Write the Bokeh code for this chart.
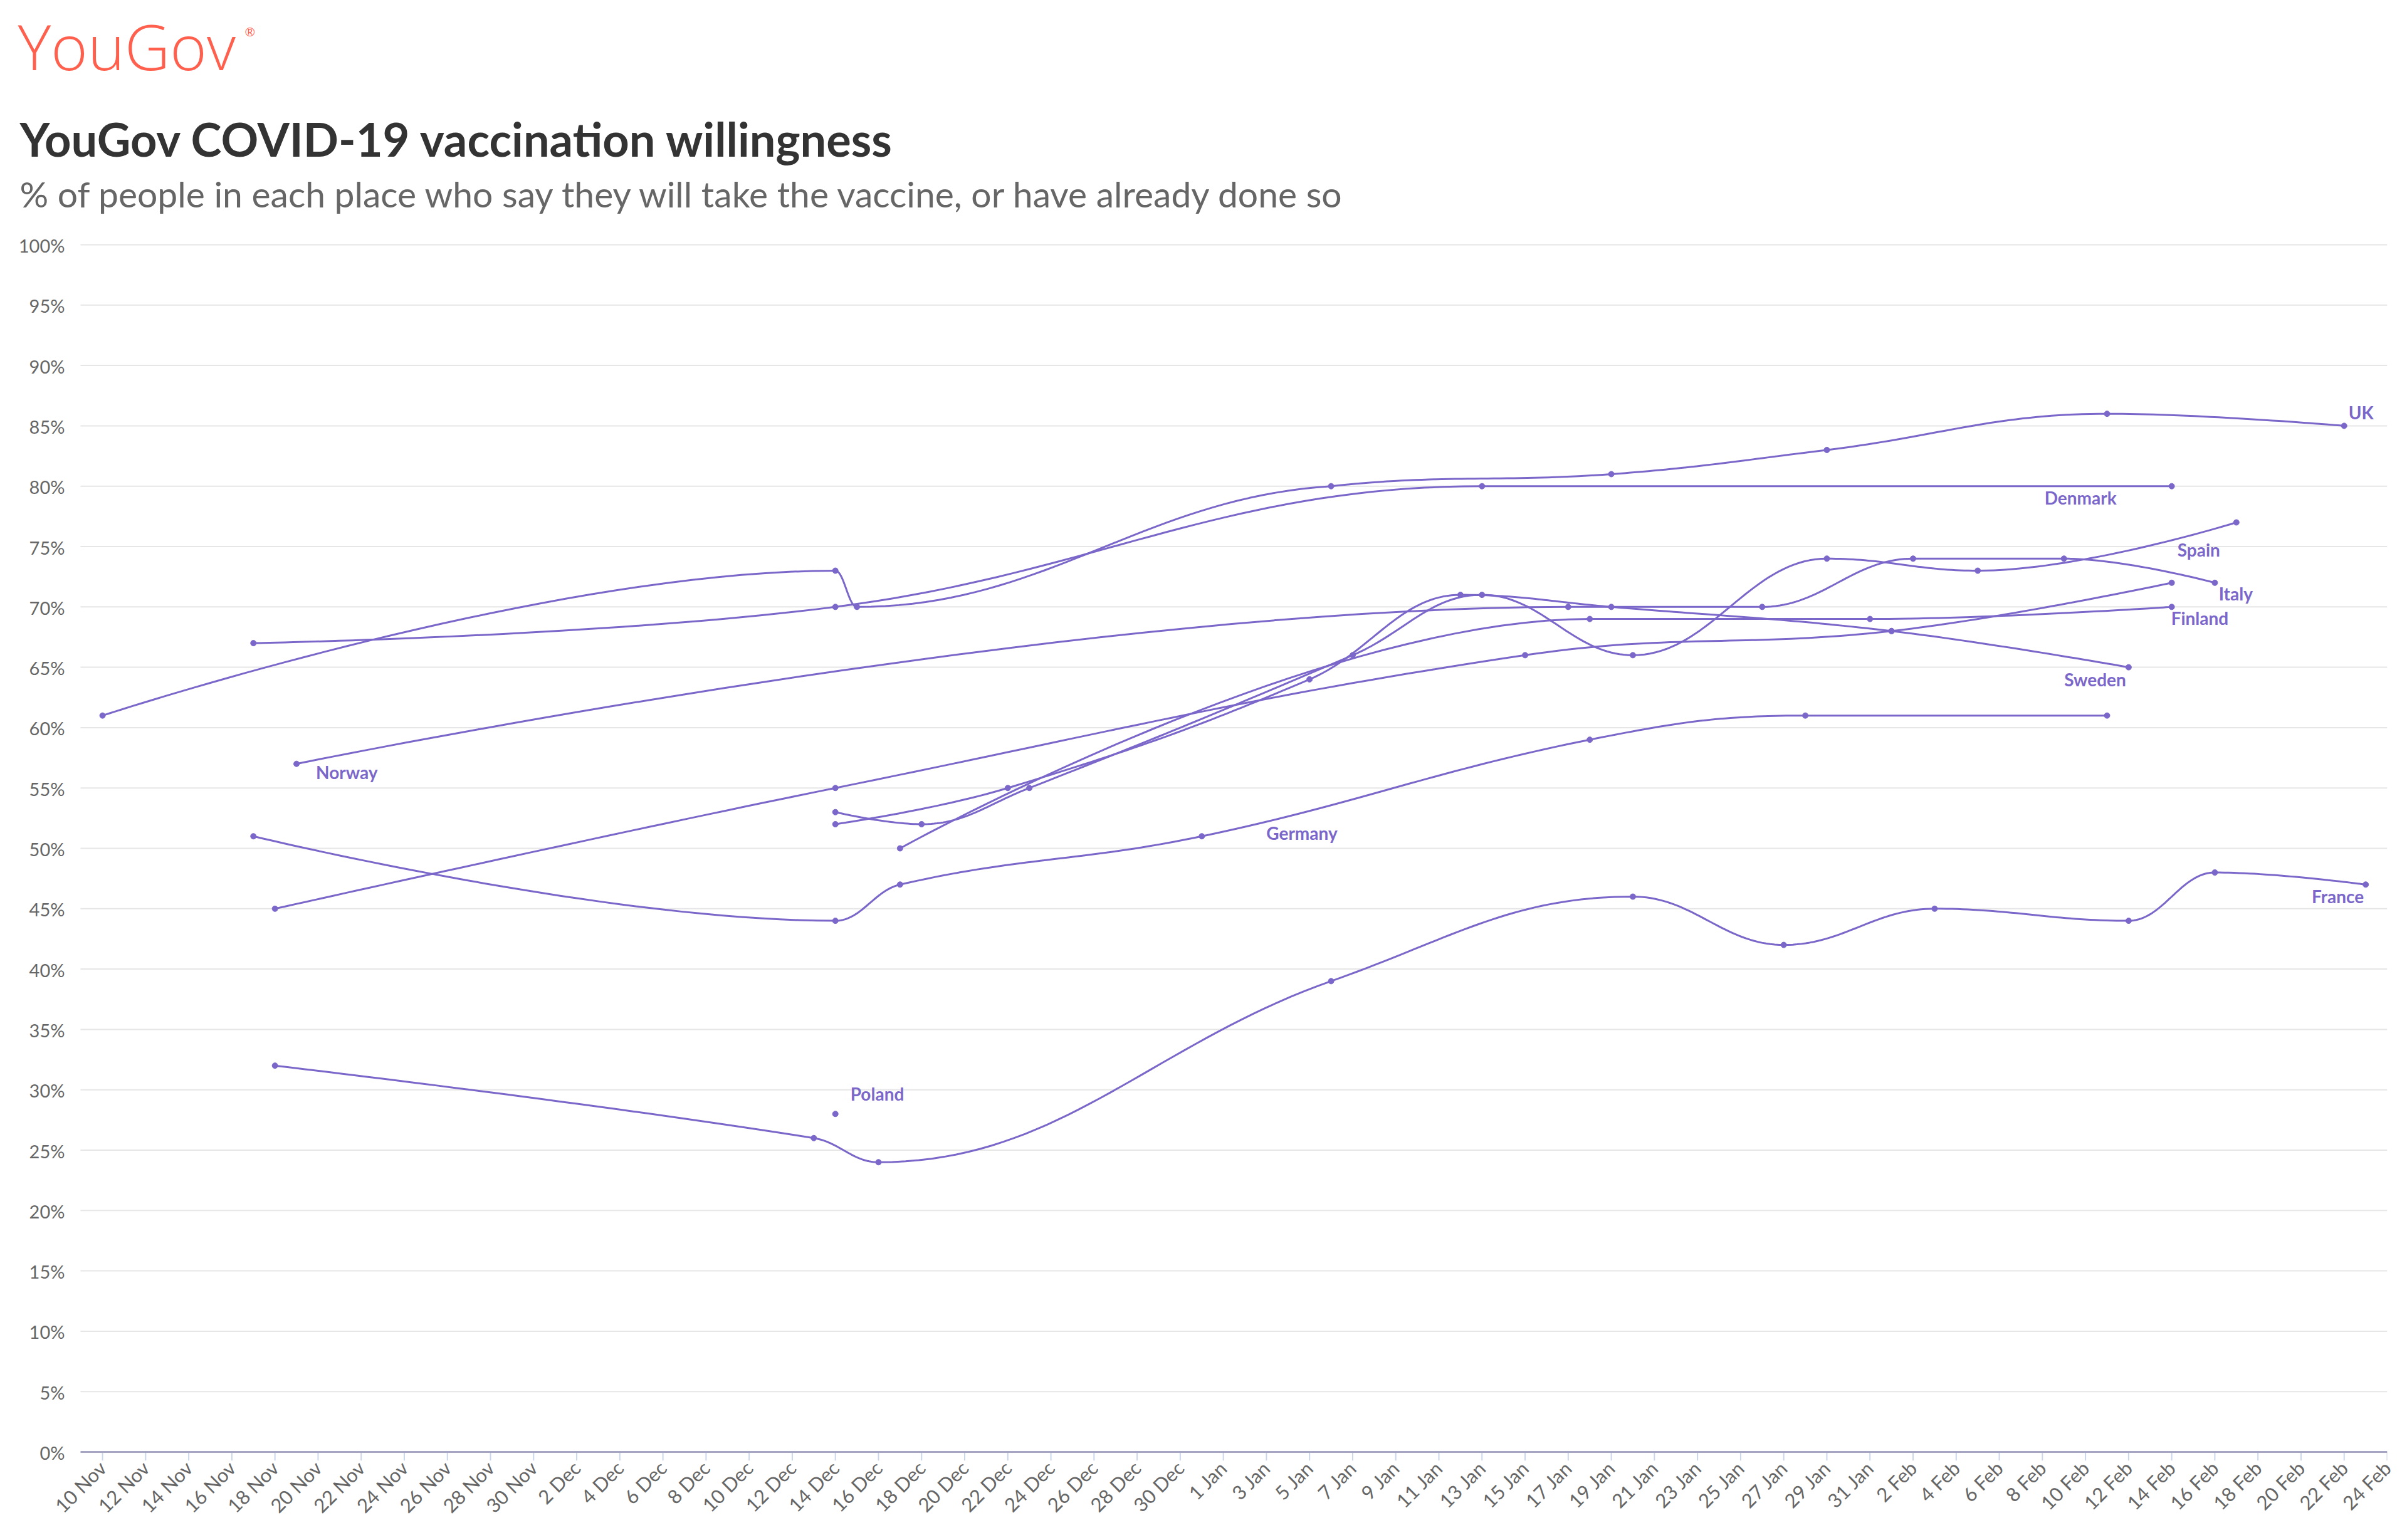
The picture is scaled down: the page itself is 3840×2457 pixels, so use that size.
import numpy as np
import pandas as pd
from math import pi
from bokeh.plotting import figure
from bokeh.models import Range1d, FixedTicker, ColumnDataSource, Label
from bokeh.embed import file_html
from bokeh.resources import INLINE
from bokeh.core.properties import value

# ---------------- data ----------------
START = "2020-11-10"

UK_DATES = ["2020-11-10", "2020-12-14", "2020-12-15", "2021-01-06", "2021-01-19", "2021-01-29", "2021-02-11", "2021-02-22"]
UK_VALUES = [61, 73, 70, 80, 81, 83, 86, 85]

DENMARK_DATES = ["2020-11-17", "2020-12-14", "2021-01-13", "2021-02-14"]
DENMARK_VALUES = [67, 70, 80, 80]

SPAIN_DATES = ["2020-12-14", "2020-12-18", "2020-12-23", "2021-01-07", "2021-01-13", "2021-01-20", "2021-01-29", "2021-02-05", "2021-02-17"]
SPAIN_VALUES = [53, 52, 55, 66, 71, 66, 74, 73, 77]

ITALY_DATES = ["2020-11-18", "2020-12-14", "2021-01-15", "2021-02-01", "2021-02-14"]
ITALY_VALUES = [45, 55, 66, 68, 72]

FINLAND_DATES = ["2020-12-17", "2021-01-18", "2021-01-31", "2021-02-14"]
FINLAND_VALUES = [50, 69, 69, 70]

SWEDEN_DATES = ["2020-12-14", "2020-12-22", "2021-01-05", "2021-01-12", "2021-01-19", "2021-02-01", "2021-02-12"]
SWEDEN_VALUES = [52, 55, 64, 71, 70, 68, 65]

NORWAY_DATES = ["2020-11-19", "2021-01-17", "2021-01-26", "2021-02-02", "2021-02-09", "2021-02-16"]
NORWAY_VALUES = [57, 70, 70, 74, 74, 72]

GERMANY_DATES = ["2020-11-17", "2020-12-14", "2020-12-17", "2020-12-31", "2021-01-18", "2021-01-28", "2021-02-11"]
GERMANY_VALUES = [51, 44, 47, 51, 59, 61, 61]

FRANCE_DATES = ["2020-11-18", "2020-12-13", "2020-12-16", "2021-01-06", "2021-01-20", "2021-01-27", "2021-02-03", "2021-02-12", "2021-02-16", "2021-02-23"]
FRANCE_VALUES = [32, 26, 24, 39, 46, 42, 45, 44, 48, 47]

POLAND_DATES = ["2020-12-14"]
POLAND_VALUES = [28]

COUNTRIES = ["UK", "Denmark", "Spain", "Italy", "Finland", "Sweden", "Norway", "Germany", "France", "Poland"]
SERIES = {
    "UK": (UK_DATES, UK_VALUES),
    "Denmark": (DENMARK_DATES, DENMARK_VALUES),
    "Spain": (SPAIN_DATES, SPAIN_VALUES),
    "Italy": (ITALY_DATES, ITALY_VALUES),
    "Finland": (FINLAND_DATES, FINLAND_VALUES),
    "Sweden": (SWEDEN_DATES, SWEDEN_VALUES),
    "Norway": (NORWAY_DATES, NORWAY_VALUES),
    "Germany": (GERMANY_DATES, GERMANY_VALUES),
    "France": (FRANCE_DATES, FRANCE_VALUES),
    "Poland": (POLAND_DATES, POLAND_VALUES),
}

X_TICK_LABELS = [
    "10 Nov", "12 Nov", "14 Nov", "16 Nov", "18 Nov", "20 Nov", "22 Nov", "24 Nov", "26 Nov", "28 Nov", "30 Nov",
    "2 Dec", "4 Dec", "6 Dec", "8 Dec", "10 Dec", "12 Dec", "14 Dec", "16 Dec", "18 Dec", "20 Dec", "22 Dec",
    "24 Dec", "26 Dec", "28 Dec", "30 Dec",
    "1 Jan", "3 Jan", "5 Jan", "7 Jan", "9 Jan", "11 Jan", "13 Jan", "15 Jan", "17 Jan", "19 Jan", "21 Jan",
    "23 Jan", "25 Jan", "27 Jan", "29 Jan", "31 Jan",
    "2 Feb", "4 Feb", "6 Feb", "8 Feb", "10 Feb", "12 Feb", "14 Feb", "16 Feb", "18 Feb", "20 Feb", "22 Feb", "24 Feb",
]
Y_TICKS = list(range(0, 101, 5))
Y_TICK_LABELS = [f"{t}%" for t in Y_TICKS]

TITLE = "YouGov COVID-19 vaccination willingness"
SUBTITLE = "% of people in each place who say they will take the vaccine, or have already done so"
LOGO = "YouGov"

# ---------------- styling / layout ----------------
PURPLE = "#7b67c9"
FONT = "Lato"
LOGO_FONT = "Open Sans"
BASELINE_FIX = 0.43     # em shift so text sits on the intended baseline
LABEL_SIZE = 28
YLAB_SIZE = 29
TICK_LEN = 14

# label placement: (anchor point index, dx px, dy px to baseline, align)
LABEL_PLACEMENT = {
    "UK": (-1, 7, -9, "left"),
    "Denmark": (-1, -88, 30, "right"),
    "Spain": (-1, -26, 56, "right"),
    "Italy": (-1, 75, 29, "left"),
    "Finland": (-1, -1, 30, "left"),
    "Sweden": (-1, -4, 31, "right"),
    "Norway": (0, 31, 25, "left"),
    "Germany": (3, 103, 7, "left"),
    "France": (-1, -3, 31, "right"),
    "Poland": (0, 24, -20, "left"),
}

W, H = 3840, 2450
PLOT_LEFT, PLOT_RIGHT = 128, 3808
PLOT_TOP, PLOT_BOTTOM = 390, 2316          # page y of the 100% and 0% lines
FRAME_BOTTOM = PLOT_BOTTOM + TICK_LEN
X0, X1 = -1.02, 106.0                       # visible date span (days from START)
PX_PER_DAY = (PLOT_RIGHT - PLOT_LEFT) / (X1 - X0)
PX_PER_PCT = (PLOT_BOTTOM - PLOT_TOP) / 100.0
XL = X0 - PLOT_LEFT / PX_PER_DAY            # frame reaches the canvas' left edge
Y_MAX = PLOT_BOTTOM / PX_PER_PCT            # frame reaches the canvas' top edge
Y_MIN = -TICK_LEN / PX_PER_PCT              # room for the tick marks below 0%


def page_to_data(px, py):
    return XL + px / PX_PER_DAY, (PLOT_BOTTOM - py) / PX_PER_PCT


def to_days(dates):
    return list((pd.to_datetime(dates) - pd.Timestamp(START)).days.astype(float))


def hc_spline(xs, ys, smoothing=1.5, n=40):
    """Highcharts-style spline through the given points."""
    m = len(xs)
    if m < 2:
        return list(xs), list(ys)
    denom = smoothing + 1
    lc = [None] * m
    rc = [None] * m
    for i in range(1, m - 1):
        x, y = xs[i], ys[i]
        lx, ly = xs[i - 1], ys[i - 1]
        nx, ny = xs[i + 1], ys[i + 1]
        lcx = (smoothing * x + lx) / denom
        lcy = (smoothing * y + ly) / denom
        rcx = (smoothing * x + nx) / denom
        rcy = (smoothing * y + ny) / denom
        if rcx != lcx:
            corr = (rcy - lcy) * (rcx - x) / (rcx - lcx) + y - rcy
            lcy += corr
            rcy += corr
        if lcy > ly and lcy > y:
            lcy = max(ly, y)
            rcy = 2 * y - lcy
        elif lcy < ly and lcy < y:
            lcy = min(ly, y)
            rcy = 2 * y - lcy
        if rcy > ny and rcy > y:
            rcy = max(ny, y)
            lcy = 2 * y - rcy
        elif rcy < ny and rcy < y:
            rcy = min(ny, y)
            lcy = 2 * y - rcy
        lc[i] = (lcx, lcy)
        rc[i] = (rcx, rcy)
    outx, outy = [xs[0]], [ys[0]]
    t = np.linspace(0, 1, n)[1:]
    for i in range(1, m):
        p0 = (xs[i - 1], ys[i - 1])
        p1 = rc[i - 1] if rc[i - 1] is not None else p0
        p3 = (xs[i], ys[i])
        p2 = lc[i] if lc[i] is not None else p3
        a = (1 - t) ** 3
        b = 3 * (1 - t) ** 2 * t
        c = 3 * (1 - t) * t ** 2
        d = t ** 3
        outx.extend(a * p0[0] + b * p1[0] + c * p2[0] + d * p3[0])
        outy.extend(a * p0[1] + b * p1[1] + c * p2[1] + d * p3[1])
    return outx, outy


p = figure(width=W, height=H, x_range=Range1d(XL, X1), y_range=Range1d(Y_MIN, Y_MAX),
           output_backend="svg", toolbar_location=None,
           min_border_left=0, min_border_right=W - PLOT_RIGHT, min_border_top=0,
           min_border_bottom=H - FRAME_BOTTOM)
p.outline_line_color = None
p.background_fill_color = "white"
p.border_fill_color = "white"
p.xgrid.grid_line_color = None
p.ygrid.grid_line_color = None
p.yaxis.visible = False

# horizontal grid lines across the plotting area
p.segment(x0=[X0] * len(Y_TICKS), x1=[X1] * len(Y_TICKS), y0=Y_TICKS, y1=Y_TICKS,
          line_color="#e6e6e6", line_width=2)

# y tick labels
p.text(x=[X0] * len(Y_TICKS), y=Y_TICKS, text=Y_TICK_LABELS, x_offset=-25, y_offset=1,
       text_align="right", text_baseline="alphabetic", text_font=value(FONT),
       text_font_size=f"{YLAB_SIZE}px", text_color="#666666")

# x axis: tick marks and base line drawn at 0%, labels from the axis
x_ticks = [2 * i for i in range(len(X_TICK_LABELS))]
p.segment(x0=x_ticks, x1=x_ticks, y0=[0] * len(x_ticks), y1=[Y_MIN] * len(x_ticks),
          line_color="#ccd6eb", line_width=2)
p.segment(x0=[X0], x1=[X1], y0=[0], y1=[0], line_color="#a6a6c4", line_width=3)

p.xaxis.ticker = FixedTicker(ticks=x_ticks)
p.xaxis.major_label_overrides = {t: lab for t, lab in zip(x_ticks, X_TICK_LABELS)}
p.xaxis.major_label_orientation = pi / 4
p.xaxis.axis_line_color = None
p.xaxis.major_tick_line_color = None
p.xaxis.minor_tick_line_color = None
p.xaxis.major_tick_in = 0
p.xaxis.major_tick_out = 0
p.xaxis.major_label_text_font = FONT
p.xaxis.major_label_text_font_size = "31px"
p.xaxis.major_label_text_color = "#666666"
p.xaxis.major_label_standoff = 6

lab_x, lab_y, lab_t, lab_dx, lab_dy, lab_al = [], [], [], [], [], []
for name in COUNTRIES:
    dates, vals = SERIES[name]
    d = to_days(dates)
    if len(d) > 1:
        sx, sy = hc_spline(d, vals)
        p.line(sx, sy, line_color=PURPLE, line_width=3, line_join="round", line_cap="round")
    p.scatter(d, vals, size=9, color=PURPLE, line_color=PURPLE)
    idx, dx, dy, al = LABEL_PLACEMENT[name]
    lab_x.append(d[idx]); lab_y.append(vals[idx]); lab_t.append(name)
    lab_dx.append(dx); lab_dy.append(dy - BASELINE_FIX * LABEL_SIZE); lab_al.append(al)

src = ColumnDataSource(dict(x=lab_x, y=lab_y, text=lab_t, dx=lab_dx, dy=lab_dy, align=lab_al))
p.text(x="x", y="y", text="text", x_offset="dx", y_offset="dy", text_align="align",
       source=src, text_font=value(FONT), text_font_style="bold", text_font_size=f"{LABEL_SIZE}px",
       text_color=PURPLE, text_baseline="alphabetic")


def heading(text, px, baseline, size, color, bold=False, font=FONT):
    x, y = page_to_data(px, baseline - BASELINE_FIX * size)
    kw = dict(text_font_style="bold") if bold else {}
    p.add_layout(Label(x=x, y=y, text=text, text_font=font, text_font_size=f"{size}px",
                       text_color=color, text_baseline="alphabetic", text_align="left", **kw))


heading(SUBTITLE, 31, 333, 57, "#666666")
heading(TITLE, 31, 253, 74, "#333333", bold=True)
heading("®", 390, 58, 20, "#ff5f4d")
heading(LOGO, 28, 115, 100, "#ff5f4d", font=LOGO_FONT)

open("out.html", "w").write(file_html(p, INLINE))
